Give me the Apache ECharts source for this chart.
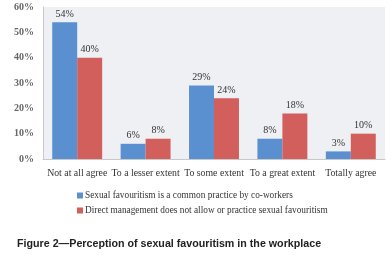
<!DOCTYPE html>
<html><head><meta charset="utf-8">
<script src="https://cdn.jsdelivr.net/npm/echarts@6/dist/echarts.min.js"></script>
<style>html,body{margin:0;padding:0;background:#fff;}#c{width:391px;height:255px;}</style>
</head><body><div id="c"></div>
<script>
const categories = ["Not at all agree", "To a lesser extent", "To some extent", "To a great extent", "Totally agree"];
const coworkers = [54, 6, 29, 8, 3];
const management = [40, 8, 24, 18, 10];
const seriesNames = ["Sexual favouritism is a common practice by co-workers", "Direct management does not allow or practice sexual favouritism"];
const caption = "Figure 2\u2014Perception of sexual favouritism in the workplace";

const chart = echarts.init(document.getElementById('c'), null, {renderer: 'canvas'});
const serif = 'Liberation Serif';
chart.setOption({
  animation: false,
  backgroundColor: '#fff',
  title: {text: caption, left: 12, top: 234, textStyle: {fontFamily: 'Liberation Sans', fontWeight: 'bold', fontSize: 10.7, color: '#222'}},
  grid: {left: 43, right: 6, top: 7, bottom: 96, show: true, backgroundColor: '#eef0f4', borderWidth: 0},
  legend: {orient: 'vertical', left: 72, top: 186, itemWidth: 6, itemHeight: 6, itemGap: 6, icon: 'rect',
    textStyle: {fontFamily: serif, fontSize: 9.3, color: '#333', padding: [0,0,0,-3]}, data: seriesNames},
  xAxis: {type: 'category', data: categories, axisTick: {show: false},
    axisLine: {lineStyle: {color: '#c8c8c8', width: 1}},
    axisLabel: {fontFamily: serif, fontSize: 9.8, color: '#333', margin: 9, interval: 0}},
  yAxis: {type: 'value', min: 0, max: 60, interval: 10,
    axisLine: {show: true, lineStyle: {color: '#c8c8c8'}}, splitLine: {show: false},
    axisLabel: {formatter: '{value}%', fontFamily: serif, fontWeight: 'bold', fontSize: 10, color: '#666', margin: 9}},
  series: [
    {name: seriesNames[0], type: 'bar', data: coworkers, barGap: '0%', barCategoryGap: '27%', itemStyle: {color: '#5a8fd0'},
     label: {show: true, position: 'top', formatter: '{c}%', fontFamily: serif, fontSize: 10, color: '#333', distance: 3}},
    {name: seriesNames[1], type: 'bar', data: management, itemStyle: {color: '#d25f5b'},
     label: {show: true, position: 'top', formatter: '{c}%', fontFamily: serif, fontSize: 10, color: '#333', distance: 3}}
  ]
});
</script></body></html>
